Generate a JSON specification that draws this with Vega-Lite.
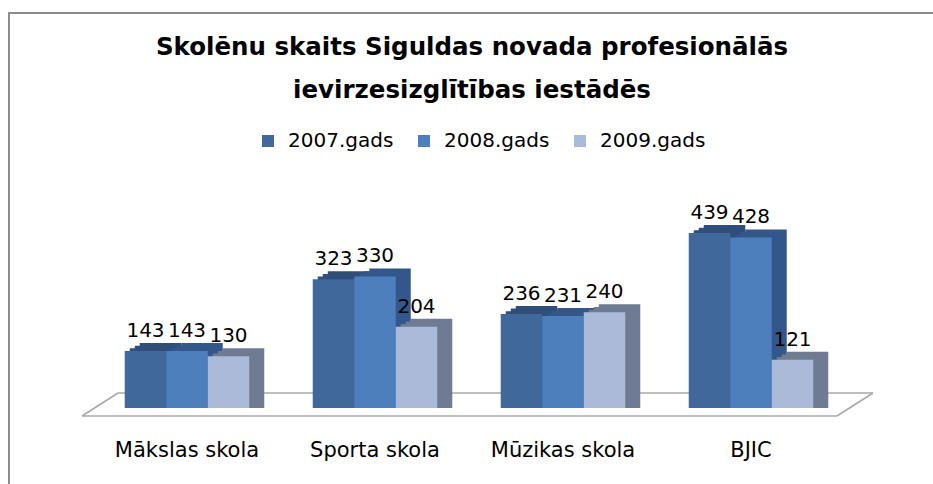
{
  "$schema": "https://vega.github.io/schema/vega-lite/v6.json",
  "width": 926,
  "height": 475,
  "autosize": {"type": "none"},
  "padding": {"left": 9, "top": 13, "right": 0, "bottom": 0},
  "background": "white",
  "config": {"view": {"stroke": "#8c8c8c", "strokeWidth": 2}, "font": "DejaVu Sans"},
  "title": {
    "text": ["Skolēnu skaits Siguldas novada profesionālās", "ievirzesizglītības iestādēs"],
    "anchor": "middle", "frame": "group", "baseline": "top", "offset": 0, "dy": 90,
    "fontSize": 24.5, "fontWeight": "bold", "color": "black", "lineHeight": 43, "font": "DejaVu Sans"
  },
  "data": {"values": [
    {"skola": "Mākslas skola", "gads": "2007.gads", "skaits": 143},
    {"skola": "Mākslas skola", "gads": "2008.gads", "skaits": 143},
    {"skola": "Mākslas skola", "gads": "2009.gads", "skaits": 130},
    {"skola": "Sporta skola", "gads": "2007.gads", "skaits": 323},
    {"skola": "Sporta skola", "gads": "2008.gads", "skaits": 330},
    {"skola": "Sporta skola", "gads": "2009.gads", "skaits": 204},
    {"skola": "Mūzikas skola", "gads": "2007.gads", "skaits": 236},
    {"skola": "Mūzikas skola", "gads": "2008.gads", "skaits": 231},
    {"skola": "Mūzikas skola", "gads": "2009.gads", "skaits": 240},
    {"skola": "BJIC", "gads": "2007.gads", "skaits": 439},
    {"skola": "BJIC", "gads": "2008.gads", "skaits": 428},
    {"skola": "BJIC", "gads": "2009.gads", "skaits": 121}
  ]},
  "resolve": {"scale": {"color": "independent", "xOffset": "independent"}},
  "layer": [
    {
      "data": {"values": [{}]},
      "mark": {"type": "rule", "color": "#a8a8a8", "strokeWidth": 1.5, "xOffset": -105, "x2Offset": 86, "yOffset": 8, "y2Offset": 8},
      "encoding": {
        "x": {"datum": "Mākslas skola", "type": "nominal", "scale": {"domain": ["Mākslas skola", "Sporta skola", "Mūzikas skola", "BJIC"], "range": [84, 836], "paddingInner": 0, "paddingOuter": 0},
          "axis": {"title": null, "orient": "bottom", "offset": -49, "domain": false, "ticks": false, "grid": false, "labelPadding": 0, "labelFontSize": 21, "labelFont": "DejaVu Sans", "labelColor": "black", "labelAngle": 0, "labelBaseline": "top"}},
        "x2": {"datum": "BJIC"},
        "y": {"datum": 0, "type": "quantitative", "axis": null, "scale": {"domain": [0, 439], "range": [395, 220], "nice": false, "zero": true}},
        "y2": {"datum": 0}
      }
    },
    {
      "data": {"values": [{}]},
      "mark": {"type": "rule", "color": "#a8a8a8", "strokeWidth": 1.5, "xOffset": -69, "x2Offset": 122, "yOffset": -15, "y2Offset": -15},
      "encoding": {
        "x": {"datum": "Mākslas skola", "type": "nominal"},
        "x2": {"datum": "BJIC"},
        "y": {"datum": 0, "type": "quantitative", "axis": null},
        "y2": {"datum": 0}
      }
    },
    {
      "data": {"values": [{}]},
      "mark": {"type": "rule", "color": "#a8a8a8", "strokeWidth": 1.5, "xOffset": -105, "x2Offset": -69, "yOffset": 8, "y2Offset": -15},
      "encoding": {
        "x": {"datum": "Mākslas skola", "type": "nominal"},
        "x2": {"datum": "Mākslas skola"},
        "y": {"datum": 0, "type": "quantitative", "axis": null},
        "y2": {"datum": 0}
      }
    },
    {
      "data": {"values": [{}]},
      "mark": {"type": "rule", "color": "#a8a8a8", "strokeWidth": 1.5, "xOffset": 86, "x2Offset": 122, "yOffset": 8, "y2Offset": -15},
      "encoding": {
        "x": {"datum": "BJIC", "type": "nominal"},
        "x2": {"datum": "BJIC"},
        "y": {"datum": 0, "type": "quantitative", "axis": null},
        "y2": {"datum": 0}
      }
    },
    {
      "mark": {"type": "bar", "yOffset": -8},
      "encoding": {
        "x": {"field": "skola", "type": "nominal"},
        "xOffset": {"field": "gads", "type": "nominal", "scale": {"range": [15, 203], "paddingOuter": 0.765, "paddingInner": 0}},
        "y": {"field": "skaits", "type": "quantitative", "axis": null},
        "y2": {"datum": 0},
        "color": {"field": "gads", "type": "nominal", "legend": null, "scale": {"range": ["#2F4E7A", "#33578A", "#6E7B92"]}}
      }
    },
    {
      "mark": {"type": "bar", "yOffset": -5.3},
      "encoding": {
        "x": {"field": "skola", "type": "nominal"},
        "xOffset": {"field": "gads", "type": "nominal", "scale": {"range": [10, 198], "paddingOuter": 0.765, "paddingInner": 0}},
        "y": {"field": "skaits", "type": "quantitative", "axis": null},
        "y2": {"datum": 0},
        "color": {"field": "gads", "type": "nominal", "legend": null, "scale": {"range": ["#2F4E7A", "#33578A", "#6E7B92"]}}
      }
    },
    {
      "mark": {"type": "bar", "yOffset": -2.7},
      "encoding": {
        "x": {"field": "skola", "type": "nominal"},
        "xOffset": {"field": "gads", "type": "nominal", "scale": {"range": [5, 193], "paddingOuter": 0.765, "paddingInner": 0}},
        "y": {"field": "skaits", "type": "quantitative", "axis": null},
        "y2": {"datum": 0},
        "color": {"field": "gads", "type": "nominal", "legend": null, "scale": {"range": ["#2F4E7A", "#33578A", "#6E7B92"]}}
      }
    },
    {
      "mark": {"type": "bar"},
      "encoding": {
        "x": {"field": "skola", "type": "nominal"},
        "xOffset": {"field": "gads", "type": "nominal", "scale": {"range": [0, 188], "paddingOuter": 0.765, "paddingInner": 0}},
        "y": {"field": "skaits", "type": "quantitative", "axis": null},
        "y2": {"datum": 0},
        "color": {"field": "gads", "type": "nominal", "scale": {"range": ["#40689B", "#4D7FBC", "#ABBAD8"]},
          "legend": {"orient": "none", "legendX": 249, "legendY": 118, "direction": "horizontal", "title": null, "symbolType": "square", "symbolSize": 144, "symbolStrokeWidth": 0, "labelFontSize": 20, "labelFont": "DejaVu Sans", "labelColor": "black", "columnPadding": 20, "labelOffset": 10}}
      }
    },
    {
      "mark": {"type": "text", "baseline": "alphabetic", "dy": -14, "fontSize": 20, "font": "DejaVu Sans", "color": "black"},
      "encoding": {
        "x": {"field": "skola", "type": "nominal"},
        "xOffset": {"field": "gads", "type": "nominal", "scale": {"type": "band", "range": [0, 188], "paddingOuter": 0.765, "paddingInner": 0}},
        "y": {"field": "skaits", "type": "quantitative", "axis": null},
        "text": {"field": "skaits", "type": "quantitative"}
      }
    }
  ]
}
